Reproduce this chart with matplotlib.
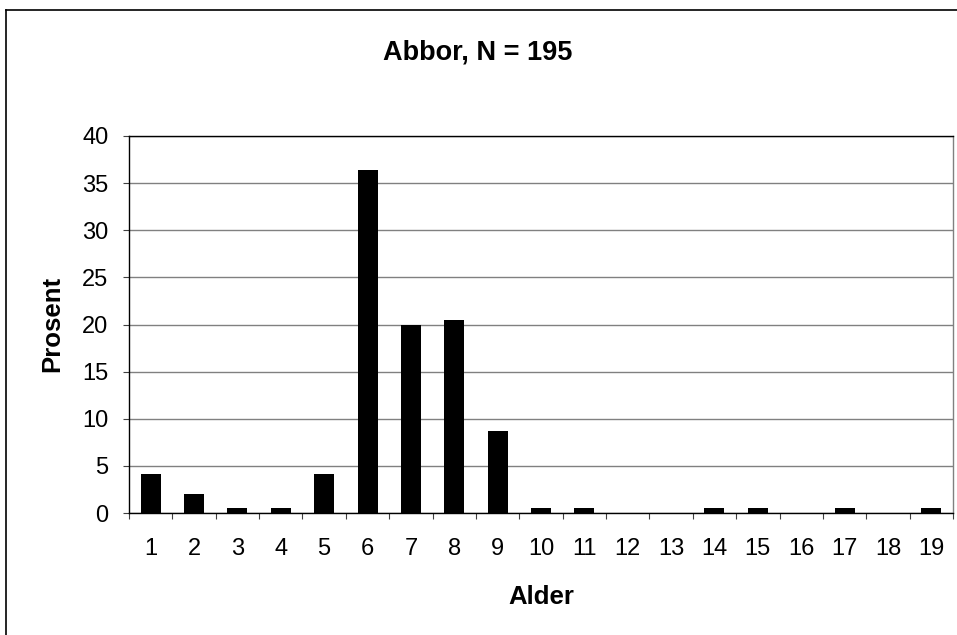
import matplotlib
matplotlib.use("Agg")
import matplotlib.pyplot as plt
from matplotlib.lines import Line2D

ages = [str(i) for i in range(1, 20)]
percent = [4.10, 2.05, 0.51, 0.51, 4.10, 36.41, 20.00, 20.51, 8.72, 0.51,
           0.51, 0.0, 0.0, 0.51, 0.51, 0.0, 0.51, 0.0, 0.51]
yticks = [0, 5, 10, 15, 20, 25, 30, 35, 40]
title = "Abbor, N = 195"
xlabel = "Alder"
ylabel = "Prosent"

plt.rcParams['font.family'] = ['Liberation Sans', 'DejaVu Sans']

W, H = 957, 635
fig = plt.figure(figsize=(W / 100, H / 100), dpi=100)
L, R, T, B = 129, 953, 136, 513
ax = fig.add_axes([L / W, 1 - B / H, (R - L) / W, (B - T) / H])

x = list(range(len(ages)))
ax.bar(x, percent, width=0.46, color='black', zorder=3)
ax.set_xlim(-0.5, len(ages) - 0.5)
ax.set_ylim(0, 40)
ax.set_yticks(yticks)
ax.set_yticklabels([str(v) for v in yticks], fontsize=17)
ax.set_xticks(x)
ax.set_xticklabels(ages, fontsize=17)
ax.tick_params(axis='x', length=0, pad=18)
ax.set_xticks([i - 0.5 for i in range(len(ages) + 1)], minor=True)
ax.tick_params(axis='x', which='minor', length=4.3, width=0.8, color='#404040')
ax.tick_params(axis='y', length=4.3, width=0.8, pad=10.5, color='#404040')
ax.grid(axis='y', color='#808080', linewidth=1.0, zorder=0)
for s in ['left', 'bottom', 'top']:
    ax.spines[s].set_color('black')
    ax.spines[s].set_linewidth(1.0)
ax.spines['right'].set_color('#808080')
ax.spines['right'].set_linewidth(1.0)

fig.text(478 / W, 1 - 53 / H, title, ha='center', va='center',
         fontsize=19.5, fontweight='bold')
fig.text(541 / W, 1 - 597 / H, xlabel, ha='center', va='center',
         fontsize=18.5, fontweight='bold')
fig.text(52 / W, 1 - 324 / H, ylabel, ha='center', va='center',
         fontsize=18.5, fontweight='bold', rotation=90)

# figure frame (left and top edges)
fig.add_artist(Line2D([6 / W, 6 / W], [0, 1 - 10 / H], transform=fig.transFigure,
                      color='black', linewidth=1.2))
fig.add_artist(Line2D([6 / W, 1], [1 - 10 / H, 1 - 10 / H], transform=fig.transFigure,
                      color='black', linewidth=1.2))

fig.savefig('out.png', dpi=100)
